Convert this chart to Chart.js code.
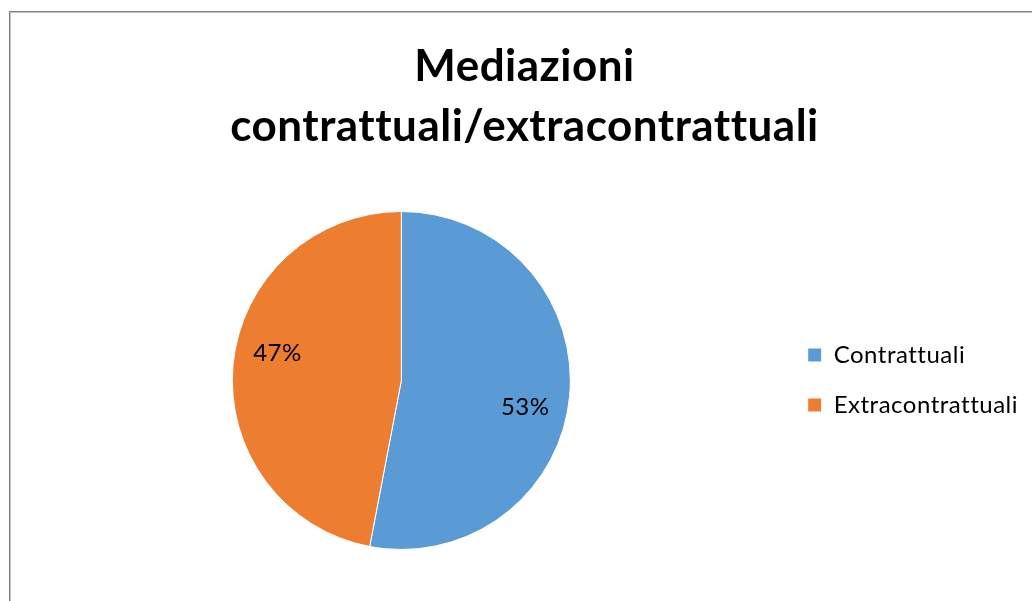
<!DOCTYPE html>
<html><head><meta charset="utf-8">
<script src="https://cdn.jsdelivr.net/npm/chart.js@4.4.0/dist/chart.umd.min.js"></script>
<style>
html,body{margin:0;padding:0;background:#fff;overflow:hidden}
#wrap{position:relative;width:1032px;height:601px}
#frame{position:absolute;left:9px;top:11px;width:1040px;height:600px;border-left:1px solid #808080;border-top:1px solid #808080;box-shadow:inset 1px 1px 0 #c4c4c4;pointer-events:none}
canvas{position:absolute;left:0;top:0}
</style></head>
<body><div id="wrap"><canvas id="c" width="1032" height="601"></canvas><div id="frame"></div></div>
<script>
const titleLines = ['Mediazioni', 'contrattuali/extracontrattuali'];
const categories = ['Contrattuali', 'Extracontrattuali'];
const values = [53, 47];
const colors = ['#5B9BD5', '#ED7D31'];

const spacingPlugin = {
  id: 'noLigatures',
  beforeUpdate(chart) { chart.ctx.letterSpacing = '0.5px'; },
  beforeDraw(chart) { chart.ctx.letterSpacing = '0.5px'; }
};

const labelPlugin = {
  id: 'pctLabels',
  afterDatasetsDraw(chart) {
    const ctx = chart.ctx;
    const meta = chart.getDatasetMeta(0);
    const total = values.reduce((a, b) => a + b, 0);
    ctx.save();
    ctx.font = '24px Lato';
    ctx.fillStyle = '#000';
    ctx.textAlign = 'center';
    ctx.textBaseline = 'middle';
    meta.data.forEach((arc, i) => {
      const p = arc.getProps(['x', 'y', 'startAngle', 'endAngle', 'outerRadius'], true);
      const mid = (p.startAngle + p.endAngle) / 2 + 0.12;
      const r = p.outerRadius * 0.75;
      ctx.fillText(Math.round(values[i] / total * 100) + '%', p.x + Math.cos(mid) * r, p.y + Math.sin(mid) * r);
    });
    ctx.restore();
  }
};

new Chart(document.getElementById('c'), {
  type: 'pie',
  data: {
    labels: categories,
    datasets: [{ data: values, backgroundColor: colors, borderColor: '#fff', borderWidth: 1 }]
  },
  options: {
    responsive: false,
    animation: false,
    layout: { padding: { left: 21, right: 4, top: 0, bottom: 51 } },
    plugins: {
      title: {
        display: true,
        text: titleLines,
        color: '#000',
        font: { family: 'Lato', size: 44, weight: 'bold', lineHeight: 60 / 44 },
        padding: { top: 37, bottom: 54 }
      },
      legend: {
        position: 'right',
        align: 'center',
        title: { display: true, text: '', padding: 0, font: { size: 10, lineHeight: 21 } },
        labels: {
          color: '#000',
          font: { family: 'Lato', size: 24 },
          boxWidth: 14,
          boxHeight: 14,
          padding: 26
        }
      },
      tooltip: { enabled: false }
    }
  },
  plugins: [spacingPlugin, labelPlugin]
});
</script>
</body></html>
